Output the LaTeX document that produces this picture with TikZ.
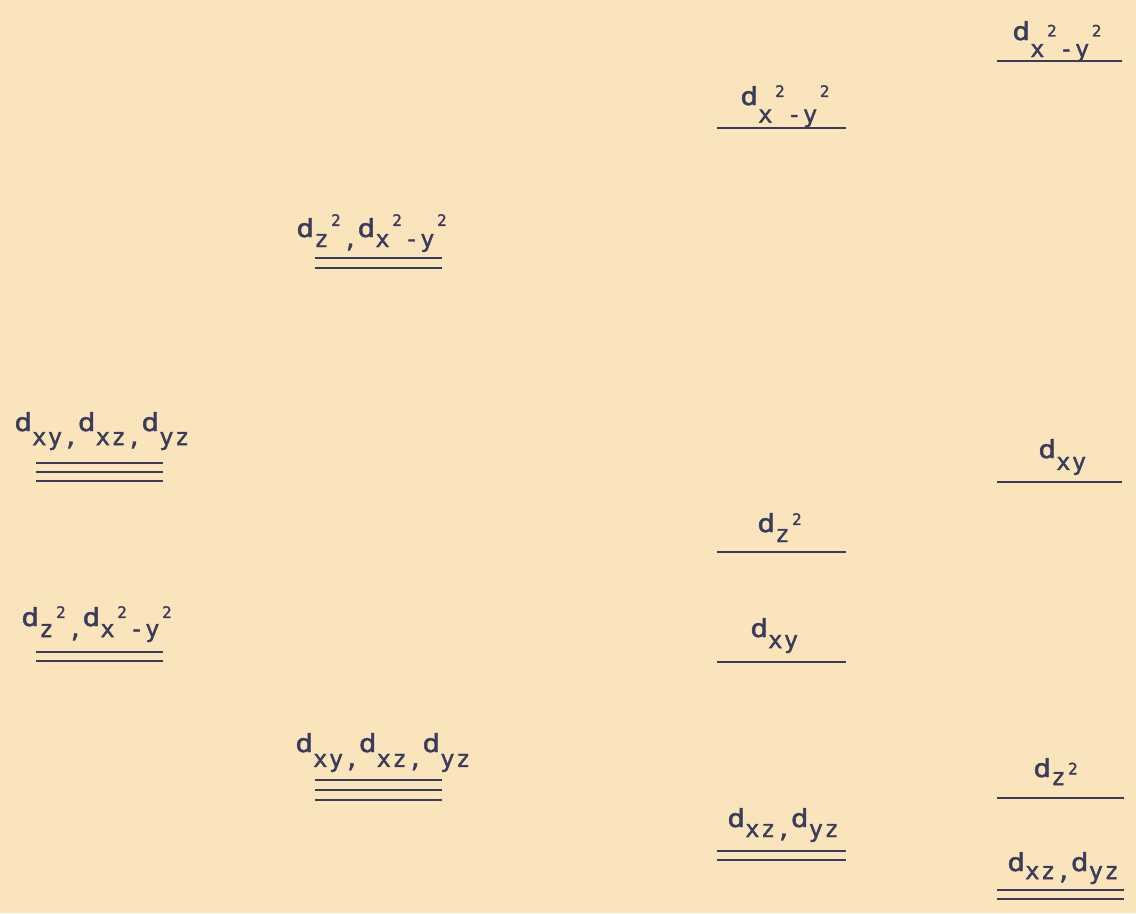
\documentclass[tikz,border=0pt]{standalone}
\usepackage{fontspec}
\usepackage{graphicx}
\newfontfamily\orbfont[LetterSpace=6,FakeBold=1.6]{DejaVu Sans Mono}
\definecolor{paper}{RGB}{250,228,188}
\definecolor{ink}{RGB}{58,60,92}
\newcommand{\orblow}{7pt}
\newcommand{\orbup}{4.6pt}
\newcommand{\orbd}{\scalebox{1.25}[1.05]{d}}
\newcommand{\orbsub}[1]{\raisebox{-\orblow}{#1}}
\newcommand{\orbsq}{\kern1.5pt\raisebox{\orbup}{\fontsize{9}{9}\selectfont 2}\kern1.5pt}
\tikzset{
  level/.style={ink, line width=1.6pt},
  lbl/.style={ink, anchor=base west, inner sep=0pt, font=\orbfont\fontsize{13.5}{13.5}\selectfont},
  sublow/.style={execute at begin node={\def\orblow{#1}}},
  supup/.style={execute at begin node={\def\orbup{#1}}}
}
\begin{document}
\begin{tikzpicture}[x=0.02cm,y=-0.02cm]
\fill[paper] (0,0) rectangle (1136,913);
\useasboundingbox (0,0) rectangle (1136,913);
% free ion
\node[lbl, sublow=8pt] (fa) at (14,431) {\orbd\orbsub{xy,}\orbd\orbsub{xz,}\orbd\orbsub{yz}};
\foreach \y in {463,472,481} \draw[level] (36,\y) -- (163,\y);
\node[lbl, sublow=6.3pt, supup=4.6pt] (fb) at (21,626) {\orbd\orbsub{z}\orbsq\orbsub{,}\orbd\orbsub{x}\orbsq\orbsub{-y}\orbsq};
\foreach \y in {652,661} \draw[level] (36,\y) -- (163,\y);
% octahedral
\node[lbl, sublow=5.7pt, supup=6.3pt] (oa) at (296,237) {\orbd\orbsub{z}\orbsq\orbsub{,}\orbd\orbsub{x}\orbsq\orbsub{-y}\orbsq};
\foreach \y in {258,268} \draw[level] (315,\y) -- (442,\y);
\node[lbl, sublow=8.5pt] (ob) at (295,752) {\orbd\orbsub{xy,}\orbd\orbsub{xz,}\orbd\orbsub{yz}};
\foreach \y in {780,790,800} \draw[level] (315,\y) -- (442,\y);
% tetragonal
\node[lbl, sublow=10pt, supup=4.6pt] (ta) at (740,105) {\orbd\orbsub{x}\orbsq\orbsub{-y}\orbsq};
\draw[level] (717,128) -- (846,128);
\node[lbl, sublow=5.7pt, supup=4pt] (tb) at (757,532) {\orbd\orbsub{z}\orbsq};
\draw[level] (717,552) -- (846,552);
\node[lbl, sublow=6.3pt] (tc) at (750,637) {\orbd\orbsub{xy}};
\draw[level] (717,662) -- (846,662);
\node[lbl, sublow=5.7pt] (td) at (727,827) {\orbd\orbsub{xz,}\orbd\orbsub{yz}};
\foreach \y in {851,860} \draw[level] (717,\y) -- (846,\y);
% square planar
\node[lbl, sublow=9.7pt, supup=2pt] (sa) at (1012,40) {\orbd\orbsub{x}\orbsq\orbsub{-y}\orbsq};
\draw[level] (997,61) -- (1122,61);
\node[lbl, sublow=6.8pt] (sb) at (1038,458) {\orbd\orbsub{xy}};
\draw[level] (997,482) -- (1122,482);
\node[lbl, sublow=4.6pt, supup=1.5pt] (sc) at (1033,777) {\orbd\orbsub{z}\orbsq};
\draw[level] (997,798) -- (1124,798);
\node[lbl, sublow=4.6pt] (sd) at (1007,871) {\orbd\orbsub{xz,}\orbd\orbsub{yz}};
\foreach \y in {890,899} \draw[level] (997,\y) -- (1124,\y);
\end{tikzpicture}
\end{document}
